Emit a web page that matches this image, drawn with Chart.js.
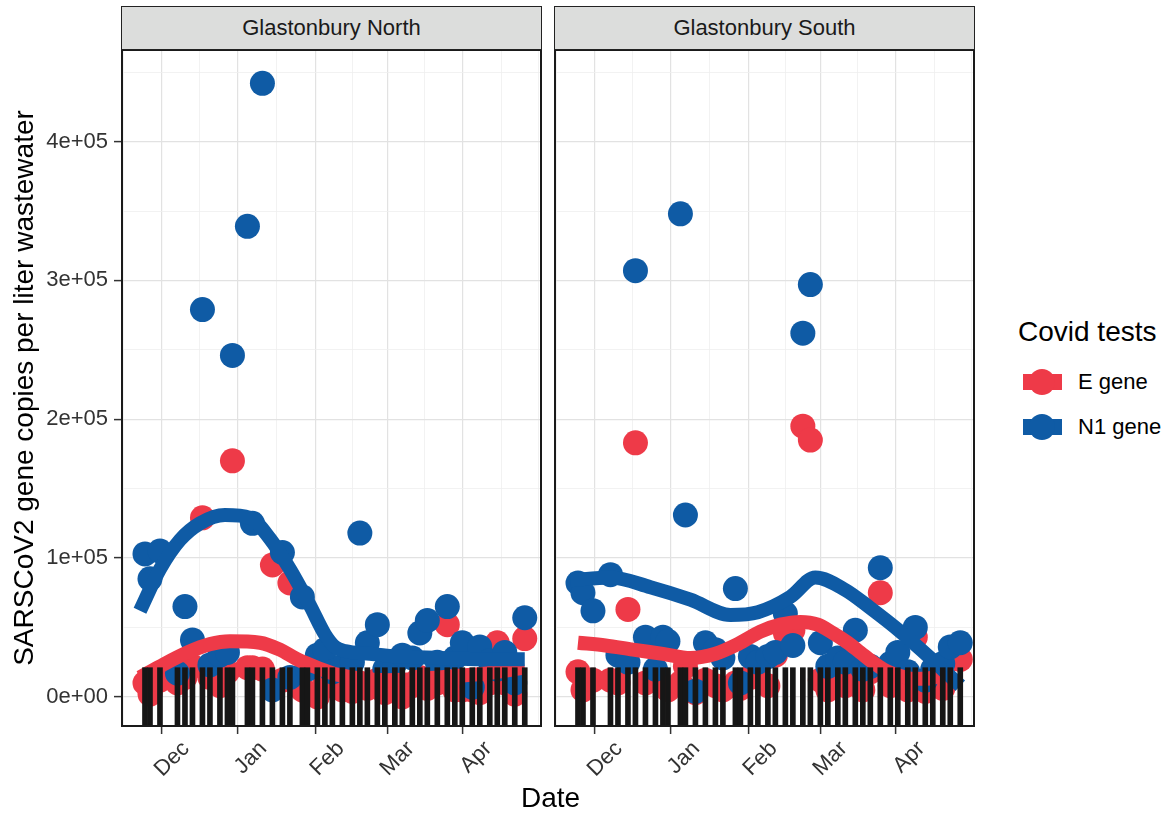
<!DOCTYPE html>
<html>
<head>
<meta charset="utf-8">
<script src="https://cdn.jsdelivr.net/npm/chart.js@4.4.1/dist/chart.umd.min.js"></script>
<style>
  body { margin: 0; background: #fff; font-family: "Liberation Sans", Arial, sans-serif; }
  #wrap { position: relative; width: 1173px; height: 816px; overflow: hidden; background: #fff; }
  canvas { position: absolute; top: 0; }
  .strip { position: absolute; top: 6px; height: 44px; box-sizing: border-box; background: #dcdddc;
           border: 1.5px solid #222; font-size: 22px; color: #1a1a1a;
           display: flex; align-items: center; justify-content: center; }
  .lbl { position: absolute; color: #000; white-space: nowrap; }
  .key { position: absolute; width: 39px; height: 16px; }
  .key span { position: absolute; left: 6px; top: -5px; width: 26px; height: 26px; border-radius: 50%; }
</style>
</head>
<body>
<div id="wrap">
  <canvas id="north" width="548" height="816" style="left:0px"></canvas>
  <canvas id="south" width="440" height="816" style="left:548px"></canvas>

  <div class="strip" style="left:121px; width:421px;">Glastonbury North</div>
  <div class="strip" style="left:554px; width:421px;">Glastonbury South</div>

  <div class="lbl" style="left:521px; top:782px; font-size:28px;">Date</div>

  <div class="lbl" style="left:1018px; top:316px; font-size:28px;">Covid tests</div>
  <div class="key" style="left:1023px; top:374px; background:#ee3a48;"><span style="background:#ee3a48"></span></div>
  <div class="lbl" style="left:1078px; top:369px; font-size:22px;">E gene</div>
  <div class="key" style="left:1023px; top:419px; background:#0f5ba5;"><span style="background:#0f5ba5"></span></div>
  <div class="lbl" style="left:1078px; top:414px; font-size:22px;">N1 gene</div>
</div>

<script>
// x values are days since 2020-11-01, y values in thousands of copies per liter
const monthDays = [30, 61, 92, 120, 151];
const monthNames = ['Dec', 'Jan', 'Feb', 'Mar', 'Apr'];
const xMinorDays = [15, 45.5, 76.5, 106, 135.5, 166];
const yMajor = [0, 100000, 200000, 300000, 400000];
const yLabels = ['0e+00', '1e+05', '2e+05', '3e+05', '4e+05'];
const yMinor = [50000, 150000, 250000, 350000, 450000];

// Glastonbury North: sample dates, E gene and N1 gene
const northDays = [16, 18, 22, 29, 32, 35, 39, 42, 46, 49, 51, 57, 59, 63, 67, 71, 74, 79, 81, 85, 88, 91,
                   95, 99, 102, 105, 109, 112, 116, 119, 123, 126, 129, 133, 137, 140, 143, 147, 150, 154, 157, 160, 164, 168];
const northE  = [10, 2, 12, 10, 14, 22, 129, 14, 8, 18, 170, 21, 21, 20, 95, 12, 82, 5, 3, 0, 10, 8,
                 5, 4, 10, 6, 12, 3, 10, 0, 8, 14, 6, 10, 52, 5, 5, 5, 3, 10, 39, 10, 2, 42];
const northN1 = [103, 85, 105, 17, 65, 41, 279, 23, 30, 32, 246, 339, 125, 442, 5, 104, 14, 72, 20, 30, 34, 18,
                 22, 25, 118, 39, 52, 20, 24, 30, 28, 46, 55, 25, 65, 28, 39, 7, 36, 26, 20, 32, 10, 57];

// Glastonbury South
const southDays = [16, 18, 22, 29, 32, 36, 39, 43, 47, 50, 52, 57, 59, 63, 67, 71, 74, 79, 81, 85, 88, 92,
                   95, 99, 102, 106, 109, 113, 116, 120, 123, 127, 130, 133, 137, 141, 144, 148, 151, 155, 158, 162, 165, 169];
const southE  = [18, 5, 12, 12, 10, 63, 183, 10, 14, 8, 5, 10, 22, 3, 12, 8, 5, 10, 6, 14, 20, 8,
                 30, 46, 48, 195, 185, 12, 5, 10, 8, 12, 5, 18, 75, 8, 12, 5, 43, 4, 12, 6, 27, 27];
const southN1 = [82, 75, 62, 88, 30, 25, 307, 43, 20, 43, 40, 348, 131, 4, 39, 34, 28, 78, 10, 29, 25, 29,
                 32, 60, 37, 262, 297, 39, 22, 28, 25, 48, 20, 22, 93, 24, 32, 18, 50, 12, 20, 24, 36, 39];

// loess trend lines
const northSmoothN1Days = [14, 22, 30, 38, 48, 58, 66, 74, 82, 88, 92, 96, 106, 118, 134, 150, 168];
const northSmoothN1     = [62, 92, 113, 125, 131, 129, 114, 92, 66, 45, 36, 33, 31, 29, 28, 27, 27];
const northSmoothEDays  = [14, 22, 33, 42, 50, 62, 70, 77, 85, 93, 113, 133, 153, 168];
const northSmoothE      = [14, 22, 32, 38, 40, 39, 34, 27, 21, 16, 12, 14, 17, 21];
const southSmoothN1Days = [13, 29, 45, 61, 77, 88, 101, 111, 123, 133, 145, 157, 169];
const southSmoothN1     = [84, 86, 79, 70, 59, 61, 72, 86, 77, 64, 47, 28, 8];
const southSmoothEDays  = [16, 27, 38, 50, 61, 71, 80, 89, 97, 105, 112, 118, 124, 129, 134, 139, 145, 150, 155, 161];
const southSmoothE      = [39, 37, 34, 31, 28, 31, 38, 47, 52, 54, 52, 46, 39, 32, 25, 19, 15, 13, 13, 15];

const RED = '#ee3a48';
const BLUE = '#0f5ba5';
const Y_MIN = -21000, Y_MAX = 466000;
const RUG_TOP = 21000;

Chart.defaults.font.family = "'Liberation Sans', Arial, sans-serif";

function pts(days, vals) {
    return days.map((d, i) => ({ x: d, y: vals[i] * 1000 }));
}

function onList(c, list) {
    return !!(c && c.tick && list.includes(c.tick.value));
}

// ggplot style box around the panel
const panelBorder = {
    id: 'panelBorder',
    afterDatasetsDraw(chart) {
        const { ctx, chartArea: a } = chart;
        ctx.save();
        ctx.strokeStyle = '#1a1a1a';
        ctx.lineWidth = 2;
        ctx.strokeRect(a.left, a.top, a.right - a.left, a.bottom - a.top);
        ctx.restore();
    }
};

function makePanel(id, days, eVals, n1Vals, smE, smN1, showY, padRight) {
    const ctx = document.getElementById(id).getContext('2d');
    return new Chart(ctx, {
        type: 'scatter',
        data: {
            datasets: [
                { type: 'bar', label: 'sample', data: days.map(d => ({ x: d, y: [Y_MIN, RUG_TOP] })),
                  backgroundColor: '#161616', barThickness: 5 },
                { type: 'line', label: 'N1 trend', data: smN1, borderColor: BLUE, borderWidth: 14,
                  pointRadius: 0, cubicInterpolationMode: 'monotone', borderCapStyle: 'butt', fill: false },
                { type: 'line', label: 'E trend', data: smE, borderColor: RED, borderWidth: 14,
                  pointRadius: 0, cubicInterpolationMode: 'monotone', borderCapStyle: 'butt', fill: false },
                { label: 'N1 gene', data: pts(days, n1Vals), backgroundColor: BLUE, borderWidth: 0, pointRadius: 12.5 },
                { label: 'E gene', data: pts(days, eVals), backgroundColor: RED, borderWidth: 0, pointRadius: 12.5 }
            ]
        },
        options: {
            responsive: false,
            animation: false,
            events: [],
            layout: { autoPadding: false, padding: { top: 50, right: padRight, bottom: 0, left: 0 } },
            plugins: { legend: { display: false }, tooltip: { enabled: false } },
            scales: {
                x: {
                    type: 'linear', min: 6.8, max: 174.5, offset: false,
                    afterBuildTicks: s => { s.ticks = monthDays.concat(xMinorDays).sort((a, b) => a - b).map(v => ({ value: v })); },
                    afterFit: s => { s.height = 90; s.paddingLeft = 0; s.paddingRight = 0; },
                    border: { display: false },
                    grid: {
                        color: c => onList(c, monthDays) ? '#e2e2e2' : '#efefef',
                        lineWidth: c => onList(c, monthDays) ? 1.2 : 0.8,
                        tickLength: 8,
                        tickWidth: 1.5,
                        tickColor: c => onList(c, monthDays) ? '#333' : 'rgba(0,0,0,0)'
                    },
                    ticks: {
                        autoSkip: false, minRotation: 45, maxRotation: 45, padding: 2, labelOffset: 6,
                        color: '#333', font: { size: 22 },
                        callback: v => { const i = monthDays.indexOf(v); return i < 0 ? '' : monthNames[i]; }
                    }
                },
                y: {
                    min: Y_MIN, max: Y_MAX,
                    afterBuildTicks: s => { s.ticks = yMajor.concat(yMinor).sort((a, b) => a - b).map(v => ({ value: v })); },
                    afterFit: s => { s.width = showY ? 122 : 7; s.paddingTop = 0; s.paddingBottom = 0; },
                    border: { display: false },
                    grid: {
                        color: c => onList(c, yMajor) ? '#e2e2e2' : '#efefef',
                        lineWidth: c => onList(c, yMajor) ? 1.2 : 0.8,
                        drawTicks: showY,
                        tickLength: 8,
                        tickWidth: 1.5,
                        tickColor: c => onList(c, yMajor) ? '#333' : 'rgba(0,0,0,0)'
                    },
                    ticks: {
                        display: showY, padding: 6, color: '#333', font: { size: 22 },
                        callback: v => { const i = yMajor.indexOf(v); return i < 0 ? '' : yLabels[i]; }
                    },
                    title: {
                        display: showY, text: 'SARSCoV2 gene copies per liter wastewater',
                        color: '#000', font: { size: 28 }, padding: { top: 8, bottom: 0 }
                    }
                }
            }
        },
        plugins: [panelBorder]
    });
}

makePanel('north', northDays, northE, northN1,
          pts(northSmoothEDays, northSmoothE), pts(northSmoothN1Days, northSmoothN1), true, 7);
makePanel('south', southDays, southE, southN1,
          pts(southSmoothEDays, southSmoothE), pts(southSmoothN1Days, southSmoothN1), false, 14);
</script>
</body>
</html>
